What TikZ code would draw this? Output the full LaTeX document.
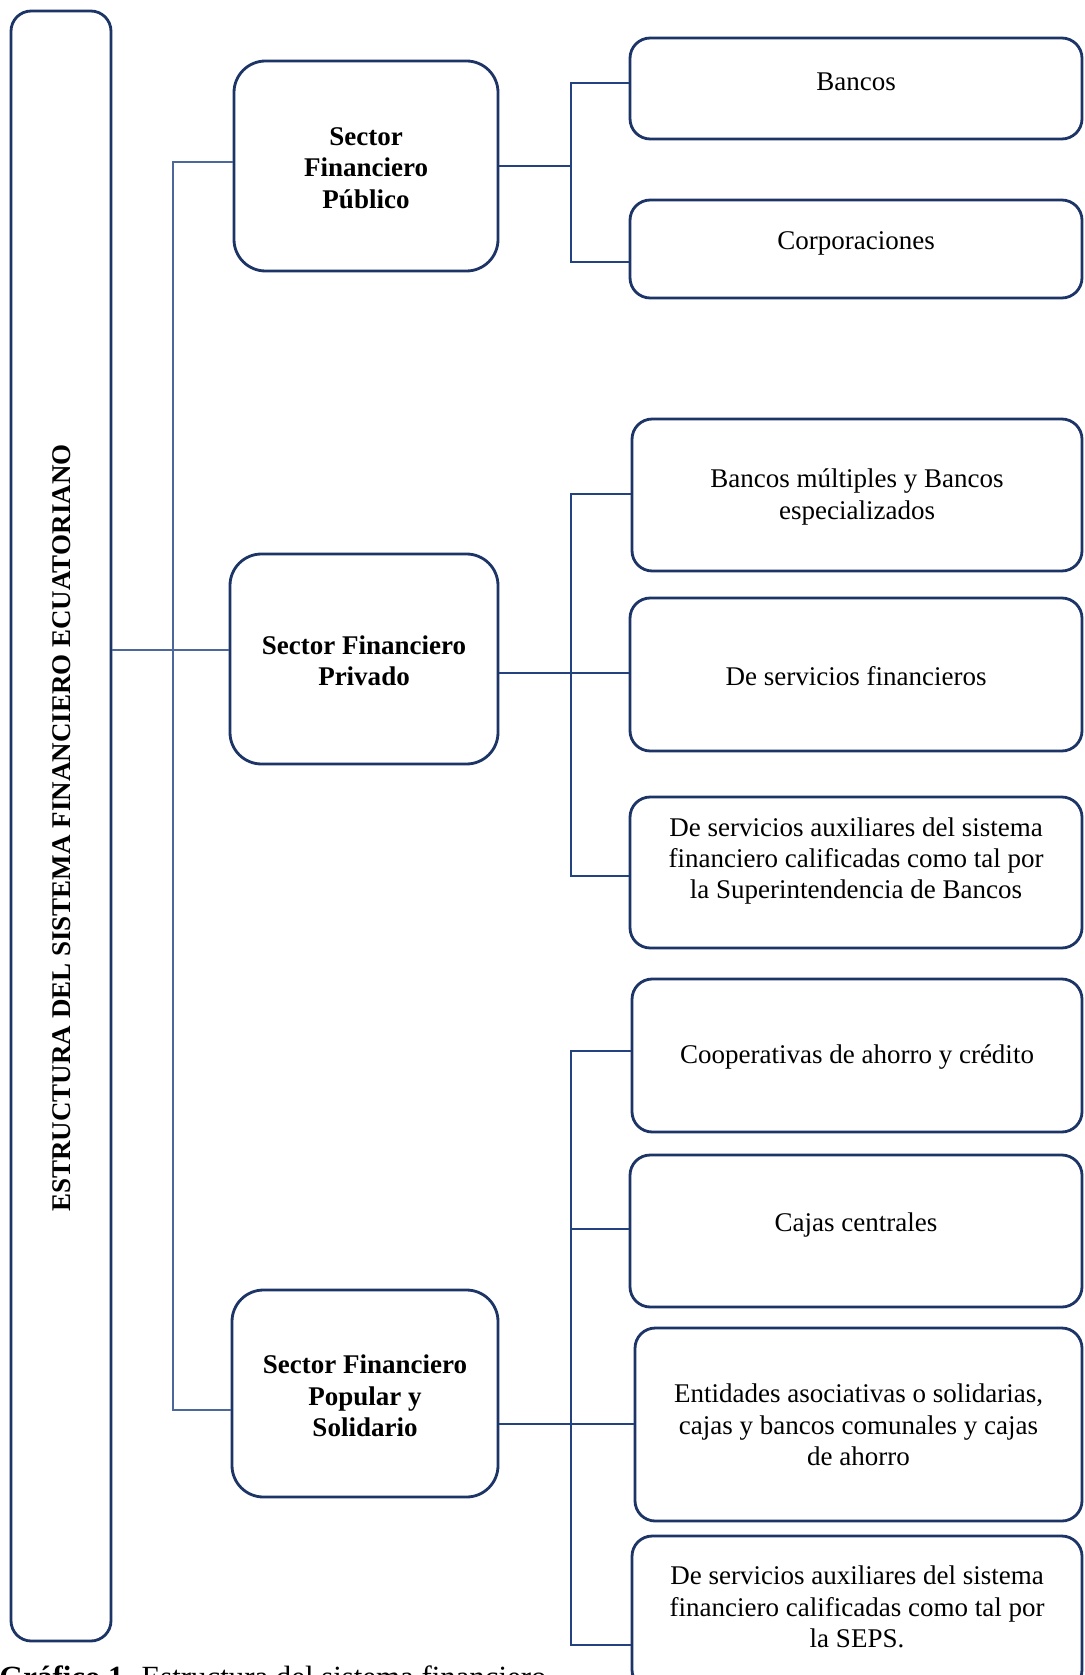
\documentclass[tikz,border=0pt]{standalone}
\usepackage{fontspec}
\setmainfont{Liberation Serif}
\usetikzlibrary{calc}
\definecolor{boxline}{HTML}{1C3466}
\definecolor{linkdark}{HTML}{23427E}
\definecolor{linklight}{HTML}{4C679A}
\tikzset{
  roundbox/.style={draw=boxline, line width=1.25pt, rounded corners=9pt,
    rectangle, inner sep=0pt},
  boxtext/.style={align=center, inner sep=0pt, font=\fontsize{12}{13.9}\selectfont},
  headtext/.style={boxtext, font=\fontsize{12}{13.9}\selectfont\bfseries},
  linkA/.style={draw=linklight, line width=0.8pt},
  linkB/.style={draw=linkdark, line width=0.8pt},
}
\begin{document}
\begin{tikzpicture}[x=0.4444pt, y=-0.4444pt]
\useasboundingbox (0,0) rectangle (1084,1675);
\clip (0,0) rectangle (1084,1675);
\fill[white] (0,0) rectangle (1084,1675);

% main vertical box
\node[roundbox, minimum width=100*0.4444pt, minimum height=1630*0.4444pt] (root) at (61,826) {};
\node[headtext, rotate=90] (roottxt) at (62,828) {ESTRUCTURA DEL SISTEMA FINANCIERO ECUATORIANO};

% sector boxes
\node[roundbox, rounded corners=14pt, minimum width=264*0.4444pt, minimum height=210*0.4444pt] (pub) at (366,166) {};
\node[headtext] (pubtxt) at (366,168) {Sector\\Financiero\\Público};
\node[roundbox, rounded corners=14pt, minimum width=268*0.4444pt, minimum height=210*0.4444pt] (priv) at (364,659) {};
\node[headtext] (privtxt) at (364,661) {Sector Financiero\\Privado};
\node[roundbox, rounded corners=14pt, minimum width=266*0.4444pt, minimum height=207*0.4444pt] (pop) at (365,1393.5) {};
\node[headtext] (poptxt) at (365,1396) {Sector Financiero\\Popular y\\Solidario};

% entities of the public sector
\node[roundbox, minimum width=452*0.4444pt, minimum height=101*0.4444pt] (b1) at (856,88.5) {};
\node[boxtext] (b1txt) at (856,82) {Bancos};
\node[roundbox, minimum width=452*0.4444pt, minimum height=98*0.4444pt] (b2) at (856,249) {};
\node[boxtext] (b2txt) at (856,243) {Corporaciones};

% entities of the private sector
\node[roundbox, minimum width=450*0.4444pt, minimum height=152*0.4444pt] (p1) at (857,495) {};
\node[boxtext] (p1txt) at (857,497) {Bancos múltiples y Bancos\\especializados};
\node[roundbox, minimum width=452*0.4444pt, minimum height=153*0.4444pt] (p2) at (856,674.5) {};
\node[boxtext] (p2txt) at (856,676) {De servicios financieros};
\node[roundbox, minimum width=452*0.4444pt, minimum height=151*0.4444pt] (p3) at (856,872.5) {};
\node[boxtext] (p3txt) at (856,861) {De servicios auxiliares del sistema\\financiero calificadas como tal por\\la Superintendencia de Bancos};

% entities of the popular and solidarity sector
\node[roundbox, minimum width=450*0.4444pt, minimum height=153*0.4444pt] (c1) at (857,1055.5) {};
\node[boxtext] (c1txt) at (857,1057) {Cooperativas de ahorro y crédito};
\node[roundbox, minimum width=452*0.4444pt, minimum height=152*0.4444pt] (c2) at (856,1231) {};
\node[boxtext] (c2txt) at (856,1225) {Cajas centrales};
\node[roundbox, minimum width=447*0.4444pt, minimum height=193*0.4444pt] (c3) at (858.5,1424.5) {};
\node[boxtext] (c3txt) at (858.5,1425) {Entidades asociativas o solidarias,\\cajas y bancos comunales y cajas\\de ahorro};
\node[roundbox, minimum width=450*0.4444pt, minimum height=154*0.4444pt] (c4) at (857,1613) {};
\node[boxtext] (c4txt) at (857,1607) {De servicios auxiliares del sistema\\financiero calificadas como tal por\\la SEPS.};

% junction points of the connectors
\coordinate (tTop) at (173,162);
\coordinate (tMid) at (173,650);
\coordinate (tBot) at (173,1410);
\coordinate (gA) at (571,166);
\coordinate (gA1) at (571,83);
\coordinate (gA2) at (571,262);
\coordinate (gB1) at (571,494);
\coordinate (gB2) at (571,673);
\coordinate (gB3) at (571,876);
\coordinate (gC1) at (571,1051);
\coordinate (gC2) at (571,1229);
\coordinate (gC3) at (571,1424);
\coordinate (gC4) at (571,1645);

% left trunk
\draw[linkA] (tTop -| pub.west) -- (tTop) -- (tBot) -- (tBot -| pop.west);
\draw[linkA] (tMid -| root.east) -- (tMid -| priv.west);

% public sector branches
\draw[linkB] (gA -| pub.east) -- (gA);
\draw[linkB] (gA1 -| b1.west) -- (gA1) -- (gA2) -- (gA2 -| b2.west);

% private sector branches
\draw[linkB] (gB2 -| priv.east) -- (gB2 -| p2.west);
\draw[linkB] (gB1 -| p1.west) -- (gB1) -- (gB3) -- (gB3 -| p3.west);

% popular and solidarity sector branches
\draw[linkB] (gC3 -| pop.east) -- (gC3 -| c3.west);
\draw[linkB] (gC1 -| c1.west) -- (gC1) -- (gC4) -- (gC4 -| c4.west);
\draw[linkB] (gC2) -- (gC2 -| c2.west);

% caption, running past the lower edge of the page
\node[anchor=base west, inner sep=0pt, font=\fontsize{13.7}{15.8}\selectfont] (caption) at (-1,1687)
  {\textbf{Gráfico 1.} Estructura del sistema financiero};
\end{tikzpicture}
\end{document}
